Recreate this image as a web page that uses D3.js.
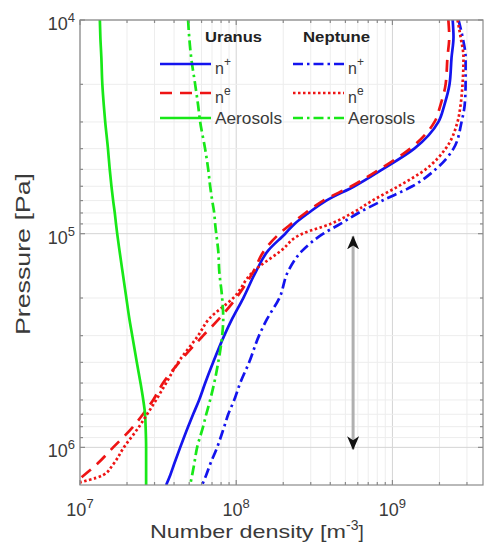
<!DOCTYPE html>
<html>
<head>
<meta charset="utf-8">
<script src="https://cdn.jsdelivr.net/npm/d3@7/dist/d3.min.js"></script>
<style>
 body { margin: 0; background: #fff; }
 svg { display: block; font-family: "Liberation Sans", Arial, Helvetica, sans-serif; }
</style>
</head>
<body>
<svg id="chart" width="484" height="547"></svg>
<script>
// pressure levels [Pa] shared by every profile
var pressureLevels = [1e4, 1.2e4, 1.5e4, 2e4, 2.5e4, 3e4, 4e4, 5e4, 6e4, 7e4, 8e4, 9e4,
                      1e5, 1.2e5, 1.5e5, 2e5, 2.5e5, 3e5, 4e5, 5e5, 6e5, 7e5, 8e5,
                      1e6, 1.2e6, 1.35e6, 1.5e6];

// number densities [m^-3]
var uranusIon = [2.43e9, 2.46e9, 2.39e9, 2.32e9, 2.15e9, 1.97e9, 1.38e9, 8.63e8, 5.71e8, 3.77e8, 2.90e8, 2.36e8,
                 2.06e8, 1.60e8, 1.34e8, 1.11e8, 9.43e7, 8.38e7, 7.12e7, 6.33e7, 5.79e7, 5.30e7, 4.92e7,
                 4.38e7, 4.0e7, 3.78e7, 3.56e7];
var uranusElec = [2.28e9, 2.31e9, 2.25e9, 2.19e9, 2.03e9, 1.86e9, 1.30e9, 8.26e8, 5.46e8, 3.61e8, 2.77e8, 2.25e8,
                  1.89e8, 1.51e8, 1.29e8, 1.0e8, 7.78e7, 6.14e7, 4.31e7, 3.40e7, 2.94e7, 2.53e7, 2.19e7,
                  1.63e7, 1.28e7, 1.06e7, 8.9e6];
var uranusAerosol = [1.34e7, 1.35e7, 1.37e7, 1.39e7, 1.42e7, 1.45e7, 1.51e7, 1.55e7, 1.59e7, 1.63e7, 1.67e7, 1.70e7,
                     1.73e7, 1.79e7, 1.87e7, 1.98e7, 2.07e7, 2.16e7, 2.31e7, 2.44e7, 2.54e7, 2.61e7, 2.63e7,
                     2.65e7, 2.65e7, 2.65e7, 2.65e7];
var neptuneIon = [2.65e9, 2.81e9, 2.94e9, 2.94e9, 2.90e9, 2.77e9, 2.46e9, 1.89e9, 1.34e9, 8.63e8, 6.05e8, 4.64e8,
                  3.61e8, 2.65e8, 2.15e8, 1.89e8, 1.58e8, 1.40e8, 1.21e8, 1.06e8, 9.71e7, 8.89e7, 8.38e7,
                  7.55e7, 6.81e7, 6.42e7, 6.05e7];
var neptuneElec = [2.61e9, 2.73e9, 2.85e9, 2.81e9, 2.73e9, 2.61e9, 2.19e9, 1.63e9, 1.09e9, 7.44e8, 5.54e8, 4.01e8,
                   2.65e8, 1.94e8, 1.29e8, 9.57e7, 6.72e7, 5.70e7, 4.25e7, 3.56e7, 3.07e7, 2.69e7, 2.39e7,
                   1.91e7, 1.63e7, 1.40e7, 8.4e6];
var neptuneAerosol = [4.92e7, 5.0e7, 5.15e7, 5.46e7, 5.70e7, 5.88e7, 6.32e7, 6.62e7, 6.81e7, 7.02e7, 7.23e7, 7.33e7,
                      7.45e7, 7.67e7, 7.79e7, 8.13e7, 8.26e7, 8.13e7, 7.67e7, 7.23e7, 6.81e7, 6.43e7, 6.14e7,
                      5.62e7, 5.38e7, 5.22e7, 5.07e7];

// the double arrow marking the altitude range
var arrowDensity = 5.6e8;
var arrowPressure = [1.03e5, 1.02e6];

var xMajorTicks = [1e7, 1e8, 1e9];
var xTickExponents = ["7", "8", "9"];
var yMajorTicks = [1e4, 1e5, 1e6];
var yTickExponents = ["4", "5", "6"];

var legendHeaders = ["Uranus", "Neptune"];
var legendNames = ["n", "n", "Aerosols"];
var legendSups = ["+", "e", ""];

var margin = {top: 20, right: 1, bottom: 62, left: 80};
var W = 484, H = 547;

var svg = d3.select("#chart");

var x = d3.scaleLog().domain([1e7, 3.8e9]).range([margin.left, W - margin.right]);
var y = d3.scaleLog().domain([1e4, 1.5e6]).range([margin.top, H - margin.bottom]);

var x0 = x.range()[0], x1 = x.range()[1], y0 = y.range()[0], y1 = y.range()[1];

function isMajor(v) { return Math.abs(Math.log10(v) - Math.round(Math.log10(v))) < 1e-9; }

var xAll = x.ticks(), yAll = y.ticks();

// grid
var grid = svg.append("g");
grid.selectAll(".gx").data(xAll).enter().append("line")
    .attr("x1", function(d){ return x(d); }).attr("x2", function(d){ return x(d); })
    .attr("y1", y0).attr("y2", y1)
    .attr("stroke", function(d){ return isMajor(d) ? "#d4d4d4" : "#ededed"; })
    .attr("stroke-width", 1);
grid.selectAll(".gy").data(yAll).enter().append("line")
    .attr("y1", function(d){ return y(d); }).attr("y2", function(d){ return y(d); })
    .attr("x1", x0).attr("x2", x1)
    .attr("stroke", function(d){ return isMajor(d) ? "#d4d4d4" : "#ededed"; })
    .attr("stroke-width", 1);

// curves
svg.append("clipPath").attr("id", "plotclip").append("rect")
    .attr("x", x0).attr("y", y0).attr("width", x1 - x0).attr("height", y1 - y0);

var series = [
  {vals: uranusIon,      color: "#1414ee", dash: null},
  {vals: uranusElec,     color: "#ee1414", dash: "12,8"},
  {vals: uranusAerosol,  color: "#18e818", dash: null},
  {vals: neptuneIon,     color: "#1414ee", dash: "10,4,2.5,4"},
  {vals: neptuneElec,    color: "#ee1414", dash: "2.5,2.5"},
  {vals: neptuneAerosol, color: "#18e818", dash: "10,4,2.5,4"}
];

var line = d3.line()
    .x(function(d){ return x(d[0]); })
    .y(function(d){ return y(d[1]); })
    .curve(d3.curveMonotoneY);

var curves = svg.append("g").attr("clip-path", "url(#plotclip)");
series.forEach(function(s){
  curves.append("path")
    .datum(d3.zip(s.vals, pressureLevels))
    .attr("d", line)
    .attr("fill", "none")
    .attr("stroke", s.color)
    .attr("stroke-width", 2.7)
    .attr("stroke-dasharray", s.dash);
});

// arrow
var defs = svg.append("defs");
defs.append("marker").attr("id", "head")
    .attr("viewBox", "0 0 14 12").attr("refX", 13).attr("refY", 6)
    .attr("markerWidth", 14).attr("markerHeight", 12)
    .attr("markerUnits", "userSpaceOnUse").attr("orient", "auto-start-reverse")
  .append("path").attr("d", "M0,0 L14,6 L0,12 L4,6 Z").attr("fill", "#111");
svg.append("line")
    .attr("x1", x(arrowDensity)).attr("x2", x(arrowDensity))
    .attr("y1", y(arrowPressure[0])).attr("y2", y(arrowPressure[1]))
    .attr("stroke", "#b0b0b0").attr("stroke-width", 3)
    .attr("marker-start", "url(#head)").attr("marker-end", "url(#head)");

// box and ticks
var axes = svg.append("g").attr("stroke", "#8a8a8a").attr("stroke-width", 1.2);
axes.append("rect").attr("x", x0).attr("y", y0).attr("width", x1 - x0).attr("height", y1 - y0)
    .attr("fill", "none");
function tl(d){ return isMajor(d) ? 5 : 3; }
xAll.forEach(function(d){
  axes.append("line").attr("x1", x(d)).attr("x2", x(d)).attr("y1", y1).attr("y2", y1 - tl(d));
  axes.append("line").attr("x1", x(d)).attr("x2", x(d)).attr("y1", y0).attr("y2", y0 + tl(d));
});
yAll.forEach(function(d){
  axes.append("line").attr("y1", y(d)).attr("y2", y(d)).attr("x1", x0).attr("x2", x0 + tl(d));
  axes.append("line").attr("y1", y(d)).attr("y2", y(d)).attr("x1", x1).attr("x2", x1 - tl(d));
});

// tick labels
var textColor = "#3a3a3a";
xMajorTicks.forEach(function(d, i){
  var t = svg.append("text").attr("x", x(d)).attr("y", 516)
      .attr("text-anchor", "middle").attr("font-size", 18).attr("fill", textColor);
  t.append("tspan").text("10");
  t.append("tspan").attr("dy", -8).attr("font-size", 13).text(xTickExponents[i]);
});
yMajorTicks.forEach(function(d, i){
  var t = svg.append("text").attr("x", 75).attr("y", y(d) + 10)
      .attr("text-anchor", "end").attr("font-size", 18).attr("fill", textColor);
  t.append("tspan").text("10");
  t.append("tspan").attr("dy", -8).attr("font-size", 13).text(yTickExponents[i]);
});

// axis labels
var xl = svg.append("text").attr("x", 150).attr("y", 538)
    .attr("font-size", 19).attr("fill", textColor);
xl.append("tspan").attr("textLength", 196).attr("lengthAdjust", "spacingAndGlyphs")
    .text("Number density [m");
xl.append("tspan").attr("dy", -8).attr("font-size", 14).text("-3");
xl.append("tspan").attr("dy", 8).text("]");

svg.append("text").attr("transform", "translate(30,254) rotate(-90)")
    .attr("text-anchor", "middle").attr("font-size", 21).attr("fill", textColor)
    .attr("textLength", 162).attr("lengthAdjust", "spacingAndGlyphs")
    .text("Pressure [Pa]");

// legend
var leg = svg.append("g");
var colX = [160, 293];
var rowY = [64, 93, 118];
var headerX = [205, 303], headerW = [57, 67];
leg.selectAll(".hdr").data(legendHeaders).enter().append("text")
    .attr("x", function(d, i){ return headerX[i]; }).attr("y", 42)
    .attr("font-size", 15).attr("font-weight", "bold").attr("fill", "#222")
    .attr("textLength", function(d, i){ return headerW[i]; })
    .attr("lengthAdjust", "spacingAndGlyphs")
    .text(function(d){ return d; });
series.forEach(function(s, k){
  var col = Math.floor(k / 3), row = k % 3;
  var lx = colX[col], ly = rowY[row];
  leg.append("line").attr("x1", lx).attr("x2", lx + 51).attr("y1", ly).attr("y2", ly)
     .attr("stroke", s.color).attr("stroke-width", 2.7).attr("stroke-dasharray", s.dash);
  var t = leg.append("text").attr("x", lx + 55)
     .attr("y", ly + (legendSups[row] ? 10 : 5.5))
     .attr("font-size", 16).attr("fill", textColor);
  if (legendSups[row]) {
    t.append("tspan").text(legendNames[row]);
    t.append("tspan").attr("dy", -8).attr("font-size", 12).text(legendSups[row]);
  } else {
    t.attr("textLength", 67).attr("lengthAdjust", "spacingAndGlyphs").text(legendNames[row]);
  }
});
</script>
</body>
</html>
